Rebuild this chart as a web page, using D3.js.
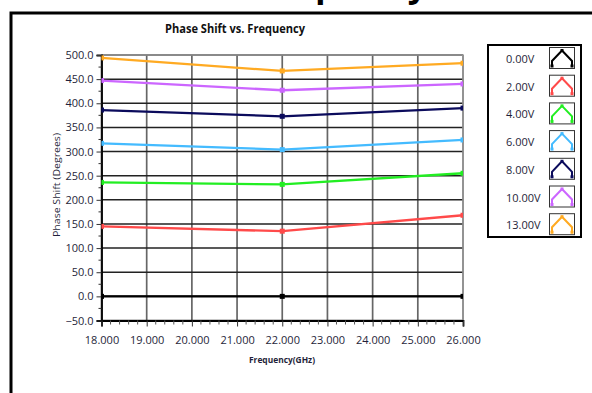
<!DOCTYPE html>
<html>
<head>
<meta charset="utf-8">
<script src="https://cdn.jsdelivr.net/npm/d3@7"></script>
<style>
  html, body { margin: 0; padding: 0; background: #fff; }
  svg { display: block; }
</style>
</head>
<body>
<div id="chart"></div>
<script>
// frequencies where the phase was measured (GHz)
const freqs = [18, 22, 26];

// phase shift (degrees) for each bias voltage
const phase0V = [0, 0, 0];
const phase2V = [145, 135, 168];
const phase4V = [236, 232, 255];
const phase6V = [317, 304, 324];
const phase8V = [386, 373, 390];
const phase10V = [447, 427, 440];
const phase13V = [494, 467, 483];

const seriesNames = ['0.00V', '2.00V', '4.00V', '6.00V', '8.00V', '10.00V', '13.00V'];
const seriesColors = ['#000000', '#ff4a4a', '#22ee22', '#44bbff', '#0b0b5c', '#cc66ff', '#ffaa22'];
const seriesValues = [phase0V, phase2V, phase4V, phase6V, phase8V, phase10V, phase13V];

const yTicks = [-50, 0, 50, 100, 150, 200, 250, 300, 350, 400, 450, 500];
const xTicks = [18, 19, 20, 21, 22, 23, 24, 25, 26];

const W = 592, H = 393;
const plot = { left: 101.5, right: 463, top: 55, bottom: 320.5 };
const textColor = '#1f1f3a';
const font = '"Open Sans", "DejaVu Sans", sans-serif';

const svg = d3.select('#chart').append('svg')
  .attr('width', W)
  .attr('height', H);

// big page heading, mostly above the visible area (only descenders show)
svg.append('text')
  .attr('x', 212)
  .attr('y', -3)
  .attr('text-anchor', 'middle')
  .attr('font-family', font)
  .attr('font-weight', 'bold')
  .attr('font-size', 34)
  .attr('fill', '#000')
  .text('Phase Shift vs. Frequency');

// outer frame of the front panel (top + left edges only are visible)
svg.append('path')
  .attr('d', `M11,${H} L11,13 L${W},13`)
  .attr('fill', 'none')
  .attr('stroke', '#000')
  .attr('stroke-width', 3);

// scales
const x = d3.scaleLinear().domain([18, 26]).range([plot.left, plot.right]);
const y = d3.scaleLinear().domain([-50, 500]).range([plot.bottom, plot.top]);

// grid
const grid = svg.append('g');
grid.selectAll('line.v')
  .data(xTicks)
  .join('line')
  .attr('class', 'v')
  .attr('x1', d => x(d)).attr('x2', d => x(d))
  .attr('y1', plot.top).attr('y2', plot.bottom)
  .attr('stroke', '#666')
  .attr('stroke-width', 1.7);

grid.selectAll('line.h')
  .data(yTicks)
  .join('line')
  .attr('class', 'h')
  .attr('x1', plot.left).attr('x2', plot.right)
  .attr('y1', d => y(d)).attr('y2', d => y(d))
  .attr('stroke', '#222')
  .attr('stroke-width', 1.5);

// plot border (top and right in grey)
svg.append('path')
  .attr('d', `M${plot.left},${plot.top} L${plot.right},${plot.top} L${plot.right},${plot.bottom}`)
  .attr('fill', 'none')
  .attr('stroke', '#9a9a9a')
  .attr('stroke-width', 1.5);

// Y axis
const yMinor = d3.range(-25, 500, 50);
const yAxis = svg.append('g')
  .attr('transform', `translate(${plot.left},0)`)
  .call(d3.axisLeft(y).tickValues(yTicks).tickFormat(d3.format('.1f')).tickSize(5).tickPadding(3));
yAxis.select('.domain').attr('stroke', '#000').attr('stroke-width', 1.8);
yAxis.selectAll('.tick line').attr('stroke', '#333');
yAxis.selectAll('.tick text')
  .attr('font-family', font).attr('font-size', 11).attr('fill', textColor);
yAxis.selectAll('line.minor')
  .data(yMinor)
  .join('line')
  .attr('class', 'minor')
  .attr('x1', -3).attr('x2', 0)
  .attr('y1', d => y(d)).attr('y2', d => y(d))
  .attr('stroke', '#333');

// X axis
const xMinor = d3.range(18, 26.001, 0.2).filter(v => Math.abs(v - Math.round(v)) > 0.01);
const xAxis = svg.append('g')
  .attr('transform', `translate(0,${plot.bottom})`)
  .call(d3.axisBottom(x).tickValues(xTicks).tickFormat(d3.format('.3f')).tickSize(6).tickPadding(10));
xAxis.select('.domain').attr('stroke', '#000').attr('stroke-width', 1.8);
xAxis.selectAll('.tick line').attr('stroke', '#333');
xAxis.selectAll('.tick text')
  .attr('font-family', font).attr('font-size', 11).attr('fill', textColor);
xAxis.selectAll('line.minor')
  .data(xMinor)
  .join('line')
  .attr('class', 'minor')
  .attr('x1', d => x(d)).attr('x2', d => x(d))
  .attr('y1', 0).attr('y2', 4)
  .attr('stroke', '#555');

// titles
svg.append('text')
  .attr('x', 235).attr('y', 33)
  .attr('text-anchor', 'middle')
  .attr('font-family', font).attr('font-weight', 'bold').attr('font-size', 12)
  .attr('textLength', 140).attr('lengthAdjust', 'spacingAndGlyphs')
  .attr('fill', '#111')
  .text('Phase Shift vs. Frequency');

svg.append('text')
  .attr('x', 282).attr('y', 363)
  .attr('text-anchor', 'middle')
  .attr('font-family', font).attr('font-weight', 'bold').attr('font-size', 9)
  .attr('textLength', 66).attr('lengthAdjust', 'spacingAndGlyphs')
  .attr('fill', textColor)
  .text('Frequency(GHz)');

svg.append('text')
  .attr('transform', 'translate(60,185) rotate(-90)')
  .attr('text-anchor', 'middle')
  .attr('font-family', font).attr('font-size', 9)
  .attr('textLength', 104).attr('lengthAdjust', 'spacingAndGlyphs')
  .attr('fill', textColor)
  .text('Phase Shift (Degrees)');

// data lines
svg.append('clipPath').attr('id', 'plot-clip')
  .append('rect')
  .attr('x', plot.left).attr('y', plot.top)
  .attr('width', plot.right - plot.left).attr('height', plot.bottom - plot.top);

const line = d3.line()
  .x((d, i) => x(freqs[i]))
  .y(d => y(d));

const series = svg.append('g').attr('clip-path', 'url(#plot-clip)')
  .selectAll('g')
  .data(seriesValues)
  .join('g');

series.append('path')
  .attr('d', d => line(d))
  .attr('fill', 'none')
  .attr('stroke', (d, i) => seriesColors[i])
  .attr('stroke-width', 2.3);

series.selectAll('rect')
  .data((d, i) => d.map((v, j) => ({ v, f: freqs[j], c: seriesColors[i] })))
  .join('rect')
  .attr('x', d => x(d.f) - 2.5)
  .attr('y', d => y(d.v) - 2.5)
  .attr('width', 5).attr('height', 5)
  .attr('fill', d => d.c);

// legend
const legend = svg.append('g');
legend.append('rect')
  .attr('x', 488).attr('y', 45)
  .attr('width', 93).attr('height', 192)
  .attr('fill', '#fff')
  .attr('stroke', '#000')
  .attr('stroke-width', 2);

const rowStep = 27.7;
const rows = legend.selectAll('g.row')
  .data(seriesNames)
  .join('g')
  .attr('class', 'row')
  .attr('transform', (d, i) => `translate(0,${47 + i * rowStep})`);

rows.append('text')
  .attr('x', 506).attr('y', 16)
  .attr('font-family', font).attr('font-size', 11)
  .attr('fill', textColor)
  .text(d => d);

rows.append('rect')
  .attr('x', 549.5).attr('y', 0.5)
  .attr('width', 25).attr('height', 21)
  .attr('fill', '#fff')
  .attr('stroke', '#333')
  .attr('stroke-width', 1);

rows.append('path')
  .attr('d', 'M552,20 L552,14 L562,3.5 L572,14 L572,20')
  .attr('fill', 'none')
  .attr('stroke', (d, i) => seriesColors[i])
  .attr('stroke-width', 2);

rows.selectAll('rect.mk')
  .data((d, i) => [[552, 19], [562, 3.5], [572, 19]].map(p => ({ p, c: seriesColors[i] })))
  .join('rect')
  .attr('class', 'mk')
  .attr('x', d => d.p[0] - 1.5).attr('y', d => d.p[1] - 1.5)
  .attr('width', 3).attr('height', 3)
  .attr('fill', d => d.c);
</script>
</body>
</html>
